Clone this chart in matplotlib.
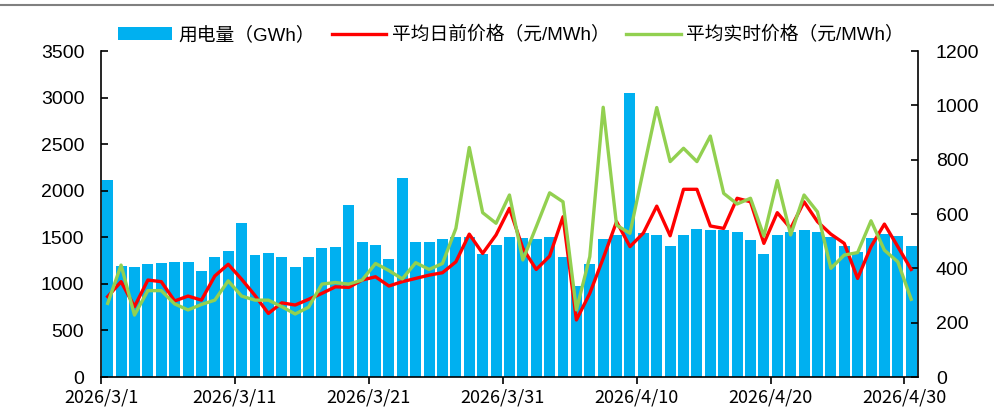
import matplotlib.pyplot as plt
from matplotlib.lines import Line2D

plt.rcParams['font.family'] = ['Liberation Sans', 'Noto Sans CJK SC', 'DejaVu Sans']

# 2026/3/1 .. 2026/4/30, one value per day
usage = [2110, 1190, 1180, 1215, 1225, 1240, 1230, 1140, 1290, 1350,
         1650, 1315, 1330, 1290, 1180, 1290, 1380, 1395, 1845, 1445,
         1420, 1265, 2140, 1450, 1455, 1485, 1505, 1500, 1320, 1420,
         1505, 1490, 1485, 1500, 1285, 980, 1215, 1485, 1520, 3045,
         1545, 1530, 1410, 1530, 1590, 1575, 1575, 1560, 1470, 1320,
         1520, 1560, 1580, 1560, 1505, 1410, 1345, 1495, 1535, 1515,
         1405]
day_ahead = [296, 351, 259, 357, 351, 280, 298, 283, 372, 415,
             360, 300, 234, 273, 265, 286, 308, 332, 330, 357,
             369, 335, 351, 363, 375, 384, 424, 526, 455, 523,
             621, 474, 396, 445, 590, 210, 308, 437, 572, 480,
             530, 629, 520, 691, 691, 556, 547, 658, 645, 492,
             605, 547, 645, 572, 526, 492, 363, 480, 563, 480,
             396]
real_time = [271, 412, 228, 318, 318, 269, 247, 267, 283, 354,
             298, 283, 283, 259, 232, 257, 342, 348, 342, 357,
             418, 392, 361, 421, 396, 418, 547, 845, 605, 566,
             670, 431, 553, 678, 645, 247, 443, 993, 559, 529,
             762, 992, 793, 842, 793, 887, 676, 637, 658, 519,
             723, 523, 670, 608, 400, 449, 458, 575, 467, 424,
             286]
tick_labels = ['2026/3/1', '2026/3/11', '2026/3/21', '2026/3/31',
               '2026/4/10', '2026/4/20', '2026/4/30']
tick_days = [0, 10, 20, 30, 40, 50, 60]

x = list(range(len(usage)))

fig = plt.figure(figsize=(9.95, 4.19), dpi=100)
ax = fig.add_axes([0.1015, 0.1002, 0.821, 0.778])
ax2 = ax.twinx()

b = ax.bar(x, usage, width=0.82, color='#00B0F0', label='用电量（GWh）', zorder=1)
l1, = ax2.plot(x, day_ahead, color='#FF0000', lw=2.4, label='平均日前价格（元/MWh）')
l2, = ax2.plot(x, real_time, color='#92D050', lw=2.4, label='平均实时价格（元/MWh）')

ax.set_xlim(-0.5, 60.5)
ax.set_ylim(0, 3500)
ax.set_yticks(range(0, 3501, 500))
ax2.set_ylim(0, 1200)
ax2.set_yticks(range(0, 1201, 200))

ax.set_xticks([d - 0.5 for d in tick_days])
ax.set_xticklabels(tick_labels, family=['Noto Sans CJK SC', 'DejaVu Sans'])

for a in (ax, ax2):
    a.spines['top'].set_visible(False)
    a.tick_params(axis='y', direction='in', length=5, width=1.2, labelsize=14)
ax.tick_params(axis='y', pad=12)
ax2.tick_params(axis='y', pad=13)
ax.tick_params(axis='x', direction='out', length=5, width=1.2, labelsize=13, pad=3)
ax2.spines['right'].set_linewidth(1.2)
ax2.spines['left'].set_visible(False)
ax2.spines['bottom'].set_visible(False)
ax.spines['right'].set_visible(False)
ax.spines['left'].set_linewidth(1.2)
ax.spines['bottom'].set_linewidth(1.2)

fig.legend([b, l1, l2], [b.get_label(), l1.get_label(), l2.get_label()],
           loc='center', bbox_to_anchor=(0.5136, 0.916), ncol=3, frameon=False,
           fontsize=13.5, handlelength=2.9, handletextpad=0.3, columnspacing=0.9)

fig.add_artist(Line2D([0, 1], [0.988, 0.988], color='#808080', lw=1.5))

fig.savefig('out.png', dpi=100)
